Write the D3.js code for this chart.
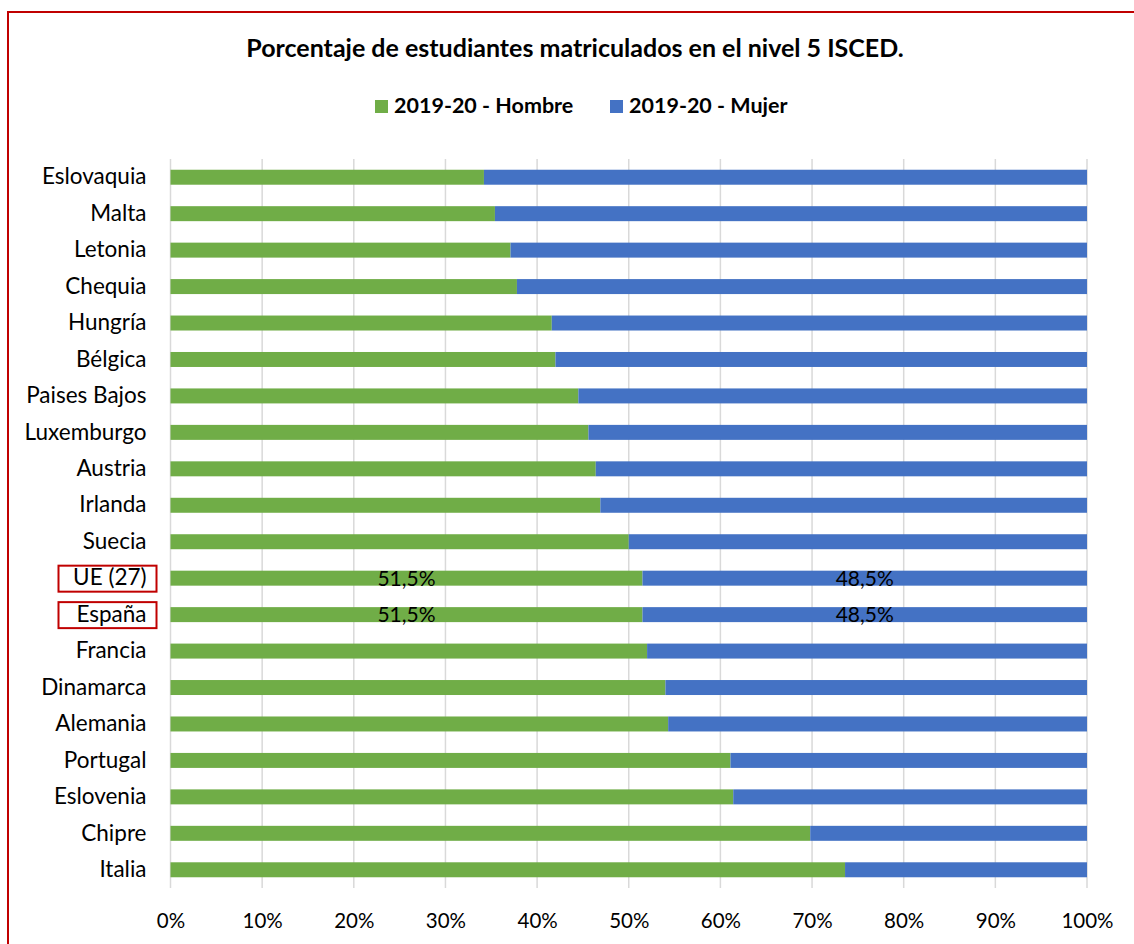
<!DOCTYPE html>
<html><head><meta charset="utf-8">
<script src="https://cdn.jsdelivr.net/npm/d3@7"></script>
<style>body{margin:0;background:#fff}svg{display:block}</style>
</head><body>
<svg id="c" width="1134" height="944"></svg>
<script>
const categories = ["Eslovaquia","Malta","Letonia","Chequia","Hungría","Bélgica","Paises Bajos","Luxemburgo","Austria","Irlanda","Suecia","UE (27)","España","Francia","Dinamarca","Alemania","Portugal","Eslovenia","Chipre","Italia"];
const hombre = [34.2,35.4,37.1,37.8,41.6,42.0,44.5,45.6,46.4,46.9,50.0,51.5,51.5,52.0,54.0,54.3,61.1,61.4,69.8,73.6];
const mujer = [65.8,64.6,62.9,62.2,58.4,58.0,55.5,54.4,53.6,53.1,50.0,48.5,48.5,48.0,46.0,45.7,38.9,38.6,30.2,26.4];
const seriesNames = ["2019-20 - Hombre","2019-20 - Mujer"];
const highlighted = ["UE (27)","España"];
const tickValues = [0,10,20,30,40,50,60,70,80,90,100];
const title = "Porcentaje de estudiantes matriculados en el nivel 5 ISCED.";

const FONT = "Lato, 'Open Sans', sans-serif";
const colors = ["#70ad47","#4472c4"];
const svg = d3.select("#c");

// outer border
svg.append("rect").attr("x",8).attr("y",12).attr("width",1140).attr("height",950)
  .attr("fill","none").attr("stroke","#c00000").attr("stroke-width",2);

const x = d3.scaleLinear().domain([0,100]).range([170.5,1087]);
const y = d3.scaleBand().domain(categories).range([159,888]).paddingInner(0.589).paddingOuter(0.2945);

// gridlines
svg.append("g").selectAll("line").data(tickValues).join("line")
  .attr("x1",d=>x(d)).attr("x2",d=>x(d)).attr("y1",159).attr("y2",888)
  .attr("stroke","#d9d9d9").attr("stroke-width",1.5);

const rows = categories.map((c,i)=>({c, h:hombre[i], m:mujer[i]}));
svg.append("g").selectAll("rect").data(rows).join("rect")
  .attr("x",x(0)).attr("y",d=>y(d.c)).attr("width",d=>x(d.h)-x(0)).attr("height",y.bandwidth()).attr("fill",colors[0]);
svg.append("g").selectAll("rect").data(rows).join("rect")
  .attr("x",d=>x(d.h)).attr("y",d=>y(d.c)).attr("width",d=>x(d.h+d.m)-x(d.h)).attr("height",y.bandwidth()).attr("fill",colors[1]);

// data labels for highlighted
const fmt = v => v.toFixed(1).replace(".",",")+"%";
const hl = rows.filter(d=>highlighted.includes(d.c));
svg.append("g").selectAll("text.h").data(hl).join("text")
  .attr("x",d=>(x(0)+x(d.h))/2).attr("y",d=>y(d.c)+y.bandwidth()/2).attr("dy","0.35em")
  .attr("text-anchor","middle").attr("font-family",FONT).attr("font-size",21).attr("fill","#000").text(d=>fmt(d.h));
svg.append("g").selectAll("text.m").data(hl).join("text")
  .attr("x",d=>(x(d.h)+x(d.h+d.m))/2).attr("y",d=>y(d.c)+y.bandwidth()/2).attr("dy","0.35em")
  .attr("text-anchor","middle").attr("font-family",FONT).attr("font-size",21).attr("fill","#000").text(d=>fmt(d.m));

// y axis labels
const yAxis = d3.axisLeft(y).tickSize(0).tickPadding(24);
const gy = svg.append("g").attr("transform",`translate(${x(0)},0)`).call(yAxis);
gy.select(".domain").remove();
gy.selectAll("text").attr("font-family",FONT).attr("font-size",22.5).attr("fill","#000");

// highlight boxes
gy.selectAll(".tick").filter(d=>highlighted.includes(d)).each(function(d){
  const t = d3.select(this);
  t.insert("rect","text").attr("x",-112).attr("y",-12.5).attr("width",98).attr("height",26)
   .attr("fill","none").attr("stroke","#c00000").attr("stroke-width",2);
});

// x axis
const xAxis = d3.axisBottom(x).tickValues(tickValues).tickFormat(d=>d+"%").tickSize(0).tickPadding(25);
const gx = svg.append("g").attr("transform",`translate(0,888)`).call(xAxis);
gx.select(".domain").remove();
gx.selectAll("text").attr("font-family",FONT).attr("font-size",20.5).attr("fill","#000");

// title
svg.append("text").attr("x",575).attr("y",57).attr("text-anchor","middle")
  .attr("font-family",FONT).attr("font-weight","bold").attr("font-size",25).text(title);

// legend
const leg = svg.append("g");
const legX = [375,610];
seriesNames.forEach((s,i)=>{
  leg.append("rect").attr("x",legX[i]).attr("y",100).attr("width",13).attr("height",13).attr("fill",colors[i]);
  leg.append("text").attr("x",legX[i]+19).attr("y",113).attr("font-family",FONT).attr("font-weight","bold")
    .attr("font-size",21.5).text(s);
});
</script>
</body></html>
